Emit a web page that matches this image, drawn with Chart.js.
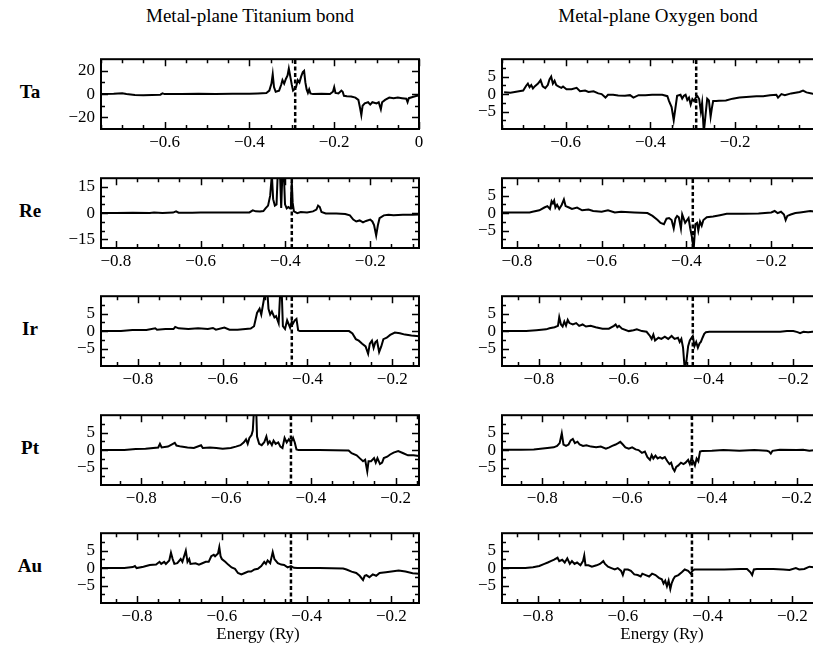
<!DOCTYPE html>
<html>
<head>
<meta charset="utf-8">
<title>Metal-plane bonds</title>
<script src="https://cdn.jsdelivr.net/npm/chart.js@4.4.1/dist/chart.umd.min.js"></script>
<style>
html, body { margin: 0; padding: 0; background: #fff; overflow: hidden; }
#page { position: relative; width: 813px; height: 645px; overflow: hidden; font-family: "Liberation Serif", "Times New Roman", serif; color: #000; }
#page canvas { position: absolute; }
.lbl { position: absolute; transform: translate(-50%, -50%); white-space: nowrap; }
.title { font-size: 19px; }
.metal { font-size: 19px; font-weight: bold; }
.axis { font-size: 17px; }
</style>
</head>
<body>
<div id="page"></div>
<script>
// rows of the figure
const metals = ["Ta", "Re", "Ir", "Pt", "Au"];
const columnTitles = ["Metal-plane Titanium bond", "Metal-plane Oxygen bond"];
const xTitle = "Energy (Ry)";

// energy window and Fermi level of each row (Ry)
const energyMin = [-0.75, -0.835, -0.887, -0.895, -0.885];
const energyMax = [0, -0.085, -0.137, -0.145, -0.135];
const fermi = [-0.292, -0.385, -0.437, -0.447, -0.437];
const xTicks = [
	[-0.6, -0.4, -0.2, 0],
	[-0.8, -0.6, -0.4, -0.2],
	[-0.8, -0.6, -0.4, -0.2],
	[-0.8, -0.6, -0.4, -0.2],
	[-0.8, -0.6, -0.4, -0.2]
];

// y axes: titanium column differs per row, oxygen column is always +-10
const tiLimit = [30, 20, 10, 10, 10];
const tiTicks = [[-20, 0, 20], [-15, 0, 15], [-5, 0, 5], [-5, 0, 5], [-5, 0, 5]];
const tiMinor = [10, 5, 2.5, 2.5, 2.5];
const oLimit = 10;
const oTicks = [-5, 0, 5];
const oMinor = 2.5;

// curves, [energy, value]
const taTi = [[-0.75,0],[-0.72,0.2],[-0.70,0.7],[-0.69,0],[-0.67,-0.8],[-0.65,-1],[-0.63,-0.8],[-0.61,-0.5],[-0.605,0.6],[-0.60,0],[-0.56,0],[-0.52,0.2],[-0.48,0],[-0.44,0.2],[-0.40,0.3],[-0.38,0.6],[-0.36,1],[-0.353,3],[-0.348,9],[-0.345,17],[-0.342,6],[-0.338,2],[-0.33,3],[-0.325,8],[-0.322,12],[-0.318,9],[-0.314,13],[-0.31,16],[-0.307,22],[-0.303,14],[-0.30,8],[-0.297,3],[-0.294,4],[-0.29,6],[-0.286,12],[-0.282,10],[-0.278,15],[-0.274,19],[-0.271,20],[-0.268,10],[-0.265,4],[-0.262,1],[-0.259,4],[-0.256,0.5],[-0.25,0],[-0.23,0.3],[-0.21,0],[-0.203,2],[-0.20,6],[-0.197,1],[-0.19,0.5],[-0.183,3],[-0.18,2],[-0.177,-1.5],[-0.17,-1.8],[-0.16,-2],[-0.15,-3],[-0.143,-5],[-0.139,-12],[-0.136,-18],[-0.133,-10],[-0.128,-8],[-0.12,-7],[-0.115,-9],[-0.11,-7],[-0.10,-8],[-0.095,-7],[-0.09,-13],[-0.087,-7],[-0.08,-5],[-0.07,-3],[-0.06,-3.5],[-0.05,-3],[-0.04,-3.5],[-0.03,-4],[-0.027,-7],[-0.024,-3.5],[-0.015,-2.5],[-0.005,-1.5],[0,-1.5]];
const taO = [[-0.745,0.5],[-0.73,0.4],[-0.72,0.6],[-0.71,0.8],[-0.70,1],[-0.693,2.4],[-0.689,3],[-0.685,2],[-0.681,2.6],[-0.677,1.6],[-0.673,2.2],[-0.665,3],[-0.659,4],[-0.654,2.2],[-0.648,1.7],[-0.642,2.6],[-0.638,4.2],[-0.634,5],[-0.630,3],[-0.626,3.8],[-0.622,2.6],[-0.617,2.2],[-0.610,1.8],[-0.606,2.2],[-0.598,1.4],[-0.586,1.4],[-0.574,1.8],[-0.566,0.8],[-0.554,1],[-0.546,0.6],[-0.534,0.8],[-0.523,0.2],[-0.515,0],[-0.506,-1],[-0.50,-0.2],[-0.488,-0.2],[-0.476,-0.4],[-0.46,-0.5],[-0.448,-0.3],[-0.44,-1],[-0.428,-0.3],[-0.412,-0.3],[-0.396,-0.2],[-0.372,-0.2],[-0.36,-0.6],[-0.356,-2],[-0.350,-3.7],[-0.345,-7.5],[-0.341,-4],[-0.337,-0.5],[-0.329,-0.2],[-0.325,-1.3],[-0.321,-0.5],[-0.317,-0.2],[-0.313,-1.7],[-0.309,-1],[-0.305,-3],[-0.301,-1.4],[-0.297,-2],[-0.293,-1],[-0.289,-0.6],[-0.285,-1.4],[-0.281,-5],[-0.278,-2.5],[-0.274,-11],[-0.270,-6],[-0.266,-1.3],[-0.262,-1.8],[-0.258,-6.5],[-0.255,-4],[-0.252,-2],[-0.245,-2],[-0.238,-1.9],[-0.222,-1.8],[-0.206,-1.3],[-0.19,-1],[-0.174,-0.8],[-0.15,-0.6],[-0.134,-0.6],[-0.118,-0.3],[-0.103,-0.2],[-0.099,-1],[-0.091,0],[-0.083,-0.3],[-0.068,0.2],[-0.048,0.6],[-0.040,1],[-0.032,0.5],[-0.02,0.2],[-0.01,-0.2],[0,0]];
const reTi = [[-0.835,0],[-0.80,0],[-0.76,0.2],[-0.72,0.1],[-0.71,0.4],[-0.69,0],[-0.665,0.3],[-0.658,1],[-0.652,0.2],[-0.62,0.2],[-0.60,0.3],[-0.57,0.4],[-0.54,0.3],[-0.50,0.3],[-0.485,0.4],[-0.477,1.6],[-0.47,1],[-0.46,0.9],[-0.452,1.2],[-0.447,2.7],[-0.441,4.3],[-0.436,10],[-0.432,22],[-0.429,8],[-0.425,4.3],[-0.421,5],[-0.418,24],[-0.413,24],[-0.410,3],[-0.407,24],[-0.404,24],[-0.401,5],[-0.397,2.7],[-0.393,3.5],[-0.389,2.7],[-0.387,7.5],[-0.385,18],[-0.383,6],[-0.380,1],[-0.372,0],[-0.364,0.6],[-0.349,0.3],[-0.335,1],[-0.327,2],[-0.323,4.3],[-0.319,3.5],[-0.315,0.6],[-0.305,-0.2],[-0.28,-0.3],[-0.259,-0.5],[-0.248,-1.3],[-0.24,-3.7],[-0.233,-4.8],[-0.225,-4.2],[-0.217,-5.3],[-0.21,-4.5],[-0.20,-3.7],[-0.195,-4.8],[-0.191,-6.9],[-0.186,-12.8],[-0.182,-7],[-0.178,-2.9],[-0.168,-1.3],[-0.157,-1],[-0.145,-1.3],[-0.123,-1],[-0.10,-1],[-0.085,-0.8]];
const reO = [[-0.835,0.2],[-0.80,0.2],[-0.77,0.2],[-0.763,0.4],[-0.747,0.8],[-0.735,1.6],[-0.728,2],[-0.722,1.2],[-0.718,3.4],[-0.715,2.8],[-0.712,3.6],[-0.709,1.6],[-0.705,2.4],[-0.70,1.2],[-0.694,2.4],[-0.689,3.9],[-0.685,2],[-0.677,1.6],[-0.67,1.2],[-0.658,1.6],[-0.646,0.8],[-0.631,1],[-0.62,0.6],[-0.60,0.4],[-0.585,0.8],[-0.569,0.2],[-0.554,0.4],[-0.523,0.2],[-0.492,0],[-0.48,-0.8],[-0.468,-2],[-0.461,-2.8],[-0.453,-3.2],[-0.447,-1.6],[-0.441,-1.4],[-0.435,-2],[-0.43,-4.4],[-0.426,-1.6],[-0.422,-0.8],[-0.418,-1.2],[-0.413,-4.4],[-0.41,-0.4],[-0.403,-2.8],[-0.395,-1.4],[-0.391,-4.4],[-0.387,-6.9],[-0.383,-10.5],[-0.379,-3.2],[-0.375,-2.8],[-0.372,-5],[-0.368,-2.4],[-0.364,-3.6],[-0.36,-2],[-0.352,-1.2],[-0.337,-1],[-0.321,-0.6],[-0.305,-0.2],[-0.267,-0.2],[-0.23,-0.1],[-0.2,0.2],[-0.192,0.6],[-0.185,0],[-0.177,0.4],[-0.17,-0.4],[-0.166,-2],[-0.162,-0.8],[-0.154,-0.4],[-0.143,0],[-0.132,0.2],[-0.12,0.4],[-0.108,0.6],[-0.095,0.4],[-0.085,0.5]];
const irTi = [[-0.887,0],[-0.84,0],[-0.813,0.3],[-0.78,0.3],[-0.759,0.8],[-0.755,0.4],[-0.735,0.6],[-0.716,0.6],[-0.712,1.2],[-0.704,0.8],[-0.681,0.6],[-0.658,0.8],[-0.635,0.6],[-0.623,0.9],[-0.616,0.4],[-0.596,1],[-0.584,0.4],[-0.565,0.4],[-0.534,0.75],[-0.526,1.4],[-0.519,5.2],[-0.513,6.4],[-0.509,4.75],[-0.503,8.9],[-0.499,12],[-0.495,12],[-0.492,6.4],[-0.488,4.75],[-0.484,5.6],[-0.478,3.9],[-0.474,4.3],[-0.468,2.25],[-0.464,12],[-0.461,12],[-0.458,1.4],[-0.453,0.6],[-0.448,3.1],[-0.441,1],[-0.437,2.7],[-0.434,2.2],[-0.430,3.1],[-0.426,3.5],[-0.422,0.2],[-0.418,0],[-0.38,0],[-0.34,0],[-0.302,0],[-0.294,-0.7],[-0.286,-2.3],[-0.279,-2.75],[-0.271,-3.6],[-0.263,-4.4],[-0.257,-6.5],[-0.253,-3.6],[-0.248,-2.75],[-0.244,-4.8],[-0.24,-3.2],[-0.236,-2.75],[-0.231,-6],[-0.226,-4.4],[-0.221,-2.3],[-0.213,-1.9],[-0.205,-1.1],[-0.194,-0.4],[-0.182,-0.6],[-0.17,-1],[-0.155,-1.25],[-0.137,-1.5]];
const irO = [[-0.887,0],[-0.83,0],[-0.806,0.25],[-0.783,0.5],[-0.775,0.8],[-0.763,1.1],[-0.755,1.5],[-0.752,4],[-0.748,1.9],[-0.744,1.3],[-0.74,2.75],[-0.736,1.6],[-0.732,3.2],[-0.728,2.3],[-0.72,1.9],[-0.712,2.3],[-0.705,1.5],[-0.697,1.9],[-0.689,1.3],[-0.678,1.5],[-0.666,1.1],[-0.65,0.7],[-0.635,0.7],[-0.623,1.5],[-0.619,1.9],[-0.615,1.1],[-0.611,1.5],[-0.604,0.7],[-0.588,0],[-0.577,0.25],[-0.569,0.5],[-0.557,0],[-0.546,-0.2],[-0.538,-1.4],[-0.534,-2.25],[-0.53,-1],[-0.526,-2.7],[-0.518,-1.9],[-0.511,-2.25],[-0.503,-1.6],[-0.495,-2.25],[-0.487,-1.4],[-0.48,-2.25],[-0.472,-1.9],[-0.468,-3.1],[-0.464,-2.25],[-0.46,-4.75],[-0.456,-11],[-0.452,-8.5],[-0.448,-4.3],[-0.444,-2.7],[-0.44,-1.9],[-0.437,-1.4],[-0.433,-4.3],[-0.429,-3.1],[-0.425,-4.75],[-0.421,-3.5],[-0.418,-3.1],[-0.414,-1.9],[-0.41,-0.8],[-0.406,-0.3],[-0.398,-0.2],[-0.35,-0.2],[-0.3,-0.2],[-0.231,-0.2],[-0.215,0],[-0.2,0],[-0.19,-0.3],[-0.184,-0.6],[-0.176,-0.2],[-0.165,-0.3],[-0.15,-0.1],[-0.137,-0.2]];
const ptTi = [[-0.895,0],[-0.84,0],[-0.813,0.3],[-0.79,0.4],[-0.76,0.75],[-0.756,1.8],[-0.752,0.75],[-0.737,1],[-0.721,2.1],[-0.717,1.3],[-0.706,1],[-0.691,0.75],[-0.676,0.6],[-0.659,1.4],[-0.655,0.6],[-0.638,0.75],[-0.623,0.6],[-0.608,0.4],[-0.589,0.6],[-0.577,1],[-0.566,1.4],[-0.558,2.25],[-0.553,3.1],[-0.549,1.8],[-0.545,3.5],[-0.54,4.3],[-0.537,5.6],[-0.534,12],[-0.529,12],[-0.527,3.9],[-0.522,1.8],[-0.516,1.4],[-0.51,2.25],[-0.505,3.9],[-0.501,1.8],[-0.497,2.5],[-0.492,1.4],[-0.488,2.7],[-0.483,1.8],[-0.477,2.2],[-0.472,1],[-0.467,0.6],[-0.462,3.5],[-0.457,2.2],[-0.452,3.1],[-0.447,2.2],[-0.442,3.5],[-0.438,2.2],[-0.434,0.2],[-0.429,0],[-0.38,0],[-0.311,-0.1],[-0.304,-0.9],[-0.292,-1.5],[-0.285,-2.3],[-0.277,-3.2],[-0.272,-2.75],[-0.267,-6.1],[-0.264,-3.2],[-0.258,-3.2],[-0.251,-2.3],[-0.247,-3.6],[-0.243,-2.3],[-0.237,-4],[-0.232,-3.6],[-0.228,-2.3],[-0.22,-1.9],[-0.213,-1.25],[-0.205,-0.7],[-0.194,-0.25],[-0.182,-0.9],[-0.171,-1.5],[-0.158,-1.5],[-0.145,-1.7]];
const ptO = [[-0.895,0.1],[-0.85,0.1],[-0.82,0.2],[-0.804,0.4],[-0.788,0.6],[-0.773,0.8],[-0.765,1.2],[-0.759,2],[-0.754,4.8],[-0.75,1.6],[-0.744,1.2],[-0.738,1.6],[-0.733,2.8],[-0.728,3.2],[-0.723,2],[-0.717,2.4],[-0.712,1.6],[-0.704,1.2],[-0.696,1.4],[-0.685,1],[-0.673,0.8],[-0.662,1],[-0.65,0.4],[-0.642,0.8],[-0.635,1.2],[-0.627,1.6],[-0.621,2],[-0.616,2.4],[-0.61,1.6],[-0.604,0.8],[-0.596,0.4],[-0.588,0.8],[-0.58,0.2],[-0.573,0],[-0.565,-0.8],[-0.558,-0.4],[-0.552,-2],[-0.546,-2.8],[-0.542,-1.4],[-0.538,-2.4],[-0.533,-1.6],[-0.528,-2.4],[-0.522,-2],[-0.517,-2.4],[-0.511,-2],[-0.505,-3.2],[-0.5,-4],[-0.496,-3.6],[-0.492,-5.2],[-0.488,-6],[-0.484,-4.8],[-0.479,-4.4],[-0.473,-3.6],[-0.467,-4],[-0.462,-3.6],[-0.456,-2.8],[-0.452,-4],[-0.448,-2.4],[-0.444,-3.2],[-0.44,-4.4],[-0.436,-2.4],[-0.432,-3.2],[-0.428,-0.4],[-0.423,-0.25],[-0.4,-0.2],[-0.373,0],[-0.335,-0.2],[-0.3,0],[-0.27,-0.2],[-0.265,-0.4],[-0.261,-1],[-0.257,-0.2],[-0.24,0.1],[-0.2,0],[-0.185,0.1],[-0.17,-0.2],[-0.155,0],[-0.145,0]];
const auTi = [[-0.885,0],[-0.83,0],[-0.81,0.3],[-0.805,0.6],[-0.801,0],[-0.785,0.4],[-0.77,0.9],[-0.755,1],[-0.747,1.8],[-0.743,1.2],[-0.736,1.8],[-0.732,1.2],[-0.724,2.2],[-0.72,4.4],[-0.716,2.6],[-0.712,1.2],[-0.705,1.4],[-0.697,2.6],[-0.693,1.8],[-0.689,3.4],[-0.685,5],[-0.681,1.8],[-0.677,2.6],[-0.674,1.2],[-0.662,1.4],[-0.654,1],[-0.646,1.4],[-0.638,1.8],[-0.631,1.8],[-0.625,3.4],[-0.619,3.8],[-0.616,3.4],[-0.609,4.2],[-0.606,6],[-0.603,3.4],[-0.6,2.6],[-0.592,1.8],[-0.585,1],[-0.577,0.2],[-0.569,-0.2],[-0.562,-1.4],[-0.554,-1.8],[-0.546,-1.4],[-0.538,-1],[-0.531,-1],[-0.523,-0.4],[-0.515,-0.2],[-0.507,0.6],[-0.5,1.8],[-0.496,1.2],[-0.492,2.2],[-0.486,1.4],[-0.48,4.6],[-0.476,2.6],[-0.468,1.4],[-0.46,1],[-0.453,0.9],[-0.445,0.2],[-0.437,0.6],[-0.43,0.1],[-0.422,0],[-0.37,0],[-0.314,-0.1],[-0.306,-0.4],[-0.294,-1],[-0.283,-1.4],[-0.275,-2.2],[-0.267,-3.4],[-0.263,-2.2],[-0.259,-2],[-0.252,-2.6],[-0.244,-1.8],[-0.236,-2.2],[-0.228,-1.4],[-0.213,-1.2],[-0.2,-1],[-0.183,-0.7],[-0.167,-1],[-0.15,-1.5],[-0.135,-1.6]];
const auO = [[-0.885,0],[-0.83,0],[-0.812,0.25],[-0.797,0.6],[-0.785,1.2],[-0.777,1.6],[-0.77,2],[-0.762,2.4],[-0.754,3],[-0.75,2],[-0.743,2.4],[-0.737,1.6],[-0.731,2.8],[-0.725,1.2],[-0.72,2],[-0.714,1.2],[-0.708,1.6],[-0.7,0.8],[-0.694,2],[-0.691,3.6],[-0.688,0.8],[-0.681,0.8],[-0.673,0.4],[-0.662,0.8],[-0.654,1.2],[-0.646,2],[-0.642,1.2],[-0.635,0.4],[-0.627,0],[-0.619,-0.4],[-0.612,0],[-0.604,-0.8],[-0.6,-2],[-0.596,-0.4],[-0.588,-0.4],[-0.581,-0.8],[-0.573,-1.8],[-0.565,-2],[-0.558,-2.4],[-0.554,-1.6],[-0.546,-2],[-0.538,-2.4],[-0.531,-1.6],[-0.523,-2],[-0.515,-2.8],[-0.508,-3.2],[-0.504,-4.4],[-0.5,-3.6],[-0.496,-5.2],[-0.492,-3.6],[-0.488,-6],[-0.485,-4.4],[-0.481,-3.2],[-0.477,-2.4],[-0.469,-2],[-0.461,-1.2],[-0.454,-0.4],[-0.446,-0.8],[-0.44,-1.6],[-0.436,-0.8],[-0.431,-0.4],[-0.4,-0.4],[-0.361,-0.4],[-0.322,-0.25],[-0.307,-0.25],[-0.299,-1.2],[-0.295,-2],[-0.291,-0.4],[-0.284,-0.25],[-0.245,-0.25],[-0.222,-0.4],[-0.207,-0.55],[-0.192,0],[-0.184,-0.4],[-0.172,-0.25],[-0.16,0.4],[-0.145,0.2],[-0.135,0.3]];

const tiSeries = [taTi, reTi, irTi, ptTi, auTi];
const oSeries = [taO, reO, irO, ptO, auO];

// page layout (pixels)
const page = document.getElementById("page");
const BOX_W = 318, BOX_H = 82;
const YW = 50, XH = 24, PT = 4, PR = 10;
const rowTop = [47, 166, 284, 403, 521];
const colLeft = [101, 502];
const FONT = "'Liberation Serif', 'Times New Roman', serif";

Chart.defaults.font.family = FONT;
Chart.defaults.color = "#000";

function minus(v) {
	if (Math.abs(v) < 1e-9) return "0";
	const s = Math.abs(v) < 1 ? Math.abs(v).toFixed(1) : String(Math.abs(v));
	return v < 0 ? "\u2212" + s : s;
}

// box with inward ticks on all four sides, drawn through the scales
const frameTicks = {
	id: "frameTicks",
	afterDraw(chart, args, opts) {
		const ctx = chart.ctx;
		const a = chart.chartArea;
		const x = chart.scales.x, y = chart.scales.y;
		ctx.save();
		ctx.strokeStyle = "#000";
		ctx.lineWidth = 1.5;
		ctx.beginPath();
		for (let k = Math.ceil(x.min / 0.05 - 1e-6); k * 0.05 <= x.max + 1e-6; k++) {
			const v = k * 0.05;
			const px = Math.round(x.getPixelForValue(v)) + 0.5;
			const len = (k % 4 === 0) ? 7 : 4;
			ctx.moveTo(px, a.bottom); ctx.lineTo(px, a.bottom - len);
			ctx.moveTo(px, a.top); ctx.lineTo(px, a.top + len);
		}
		for (let k = Math.ceil(y.min / opts.step); k * opts.step <= y.max; k++) {
			const v = k * opts.step;
			if (Math.abs(v) >= y.max - 1e-9) continue;
			const py = Math.round(y.getPixelForValue(v)) + 0.5;
			const len = opts.major.includes(v) ? 7 : 4;
			ctx.moveTo(a.left, py); ctx.lineTo(a.left + len, py);
			ctx.moveTo(a.right, py); ctx.lineTo(a.right - len, py);
		}
		ctx.stroke();
		ctx.lineWidth = 2;
		ctx.strokeRect(a.left, a.top, a.right - a.left, a.bottom - a.top);
		ctx.restore();
	}
};

function makePanel(row, col) {
	const series = col === 0 ? tiSeries[row] : oSeries[row];
	const lim = col === 0 ? tiLimit[row] : oLimit;
	const yt = col === 0 ? tiTicks[row] : oTicks;
	const step = col === 0 ? tiMinor[row] : oMinor;

	const canvas = document.createElement("canvas");
	canvas.width = YW + BOX_W + PR;
	canvas.height = PT + BOX_H + XH;
	canvas.style.left = (colLeft[col] - YW) + "px";
	canvas.style.top = (rowTop[row] - PT) + "px";
	page.appendChild(canvas);

	const tickFont = { family: FONT, size: 17 };
	new Chart(canvas, {
		type: "line",
		data: {
			datasets: [{
				data: series.map(p => ({ x: p[0], y: p[1] })),
				borderColor: "#000",
				borderWidth: 2,
				pointRadius: 0,
				tension: 0
			}, {
				data: [{ x: fermi[row], y: -lim }, { x: fermi[row], y: lim }],
				borderColor: "#000",
				borderWidth: 2.5,
				borderDash: [4, 2.5],
				pointRadius: 0
			}]
		},
		options: {
			responsive: false,
			animation: false,
			events: [],
			layout: { padding: { top: PT, right: PR, left: 0, bottom: 0 } },
			plugins: {
				legend: { display: false },
				tooltip: { enabled: false },
				frameTicks: { step: step, major: yt }
			},
			scales: {
				x: {
					type: "linear",
					min: energyMin[row],
					max: energyMax[row],
					grid: { display: false, drawTicks: false },
					border: { display: false },
					afterBuildTicks: s => { s.ticks = xTicks[row].map(v => ({ value: v })); },
					afterFit: s => { s.height = XH; },
					ticks: { autoSkip: false, maxRotation: 0, padding: 3, color: "#000", font: tickFont, callback: v => minus(v) }
				},
				y: {
					type: "linear",
					min: -lim,
					max: lim,
					grid: { display: false, drawTicks: false },
					border: { display: false },
					afterBuildTicks: s => { s.ticks = yt.map(v => ({ value: v })); },
					afterFit: s => { s.width = YW; },
					ticks: { padding: 6, color: "#000", font: tickFont, callback: v => minus(v) }
				}
			}
		},
		plugins: [frameTicks]
	});
}

function addText(text, cls, x, y) {
	const d = document.createElement("div");
	d.className = "lbl " + cls;
	d.textContent = text;
	d.style.left = x + "px";
	d.style.top = y + "px";
	page.appendChild(d);
}

addText(columnTitles[0], "title", 250, 16);
addText(columnTitles[1], "title", 658, 16);
for (let r = 0; r < metals.length; r++) {
	addText(metals[r], "metal", 30, rowTop[r] + 45);
	makePanel(r, 0);
	makePanel(r, 1);
}
addText(xTitle, "axis", 258, 634);
addText(xTitle, "axis", 662, 634);
</script>
</body>
</html>
